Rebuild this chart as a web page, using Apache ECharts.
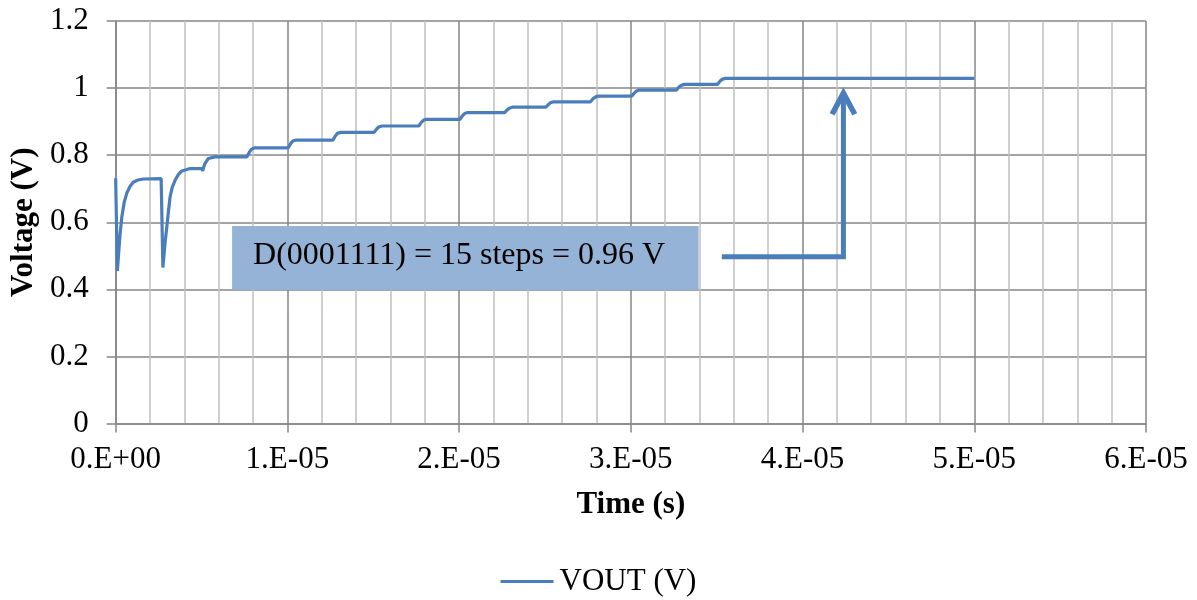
<!DOCTYPE html>
<html>
<head>
<meta charset="utf-8">
<script src="https://cdn.jsdelivr.net/npm/echarts@6/dist/echarts.min.js"></script>
<style>
  html, body { margin: 0; padding: 0; background: #ffffff; }
  #chart { width: 1197px; height: 600px; }
</style>
</head>
<body>
<div id="chart"></div>
<script>
// VOUT transient of the charge-sharing DAC: time in microseconds, voltage in volts
const timeUs = [
  0, 0.1, 0.25, 0.36, 0.5, 0.65, 0.85, 1.04, 1.3, 1.62, 2.65,
  2.75, 2.88, 2.98, 3.08, 3.17, 3.3, 3.46, 3.65, 3.85, 4.34, 5.02,
  5.07, 5.14, 5.21, 5.40, 5.79,
  7.65, 7.68, 7.8, 7.92, 8.1,
  10.05, 10.08, 10.2, 10.32, 10.5,
  12.65, 12.68, 12.8, 12.92, 13.1,
  15.05, 15.08, 15.2, 15.32, 15.5,
  17.65, 17.68, 17.8, 17.92, 18.1,
  20.05, 20.08, 20.2, 20.32, 20.5,
  22.65, 22.68, 22.8, 22.92, 23.1,
  25.05, 25.08, 25.2, 25.32, 25.5,
  27.65, 27.68, 27.8, 27.92, 28.1,
  30.05, 30.08, 30.2, 30.32, 30.5,
  32.65, 32.68, 32.8, 32.92, 33.1,
  35.05, 35.08, 35.2, 35.32, 35.5,
  50
];
const vout = [
  0.731, 0.455, 0.560, 0.616, 0.660, 0.687, 0.708, 0.720, 0.726, 0.729, 0.730,
  0.465, 0.540, 0.586, 0.635, 0.676, 0.705, 0.725, 0.742, 0.753, 0.760, 0.760,
  0.753, 0.766, 0.776, 0.790, 0.795,
  0.795, 0.791, 0.810, 0.818, 0.822,
  0.822, 0.818, 0.835, 0.842, 0.845,
  0.845, 0.841, 0.858, 0.865, 0.868,
  0.868, 0.864, 0.878, 0.884, 0.887,
  0.887, 0.883, 0.898, 0.904, 0.907,
  0.907, 0.903, 0.918, 0.924, 0.927,
  0.927, 0.923, 0.935, 0.940, 0.943,
  0.943, 0.939, 0.951, 0.956, 0.959,
  0.959, 0.955, 0.968, 0.973, 0.976,
  0.976, 0.972, 0.985, 0.991, 0.994,
  0.994, 0.990, 1.003, 1.008, 1.011,
  1.011, 1.007, 1.021, 1.026, 1.029,
  1.029
];

// x tick labels (axis runs 0..60 us, one label per 10 us)
const xTickLabels = ['0.E+00', '1.E-05', '2.E-05', '3.E-05', '4.E-05', '5.E-05', '6.E-05'];

// callout text and its placement in data units (us, V)
const calloutText = 'D(0001111) = 15 steps = 0.96 V';
const calloutBox = { t0: 6.78, t1: 33.95, v0: 0.398, v1: 0.589 };
const calloutTextAt = { t: 20.0, v: 0.502 };
const arrowPath = [[35.3, 0.497], [42.38, 0.497], [42.38, 0.980]];
const arrowHead = [[41.72, 0.922], [42.38, 0.985], [43.04, 0.922]];

const FONT = 'Liberation Serif';
const BLUE = '#4A7EBB';

const seriesData = timeUs.map((t, i) => [t, vout[i]]);

const chart = echarts.init(document.getElementById('chart'), null, { renderer: 'canvas' });

chart.setOption({
  animation: false,
  backgroundColor: '#ffffff',
  grid: { left: 115.5, right: 51, top: 21, bottom: 176.5, containLabel: false },
  legend: {
    bottom: -2,
    left: 'center',
    icon: 'rect',
    itemWidth: 53,
    itemHeight: 3,
    itemGap: 10,
    textStyle: { fontFamily: FONT, fontSize: 31, color: '#000', padding: [0, 0, 0, 1] },
    data: ['VOUT (V)']
  },
  xAxis: {
    type: 'value',
    min: 0,
    max: 60,
    interval: 10,
    name: 'Time (s)',
    nameLocation: 'middle',
    nameGap: 66,
    nameTextStyle: { fontFamily: FONT, fontSize: 31, fontWeight: 'bold', color: '#000' },
    axisLine: { show: true, lineStyle: { color: '#868686', width: 1.5 } },
    axisTick: { show: true, inside: false, length: 9, lineStyle: { color: '#868686', width: 1.5 } },
    minorTick: { show: false, splitNumber: 5 },
    axisLabel: {
      margin: 21,
      fontFamily: FONT,
      fontSize: 31,
      color: '#000',
      formatter: v => xTickLabels[Math.round(v / 10)]
    },
    splitLine: { show: true, lineStyle: { color: '#868686', width: 1.5 } },
    minorSplitLine: { show: true, lineStyle: { color: '#C0C0C0', width: 1.5 } }
  },
  yAxis: {
    type: 'value',
    min: 0,
    max: 1.2,
    interval: 0.2,
    name: 'Voltage (V)',
    nameLocation: 'middle',
    nameGap: 70,
    nameTextStyle: { fontFamily: FONT, fontSize: 31, fontWeight: 'bold', color: '#000' },
    axisLine: { show: true, lineStyle: { color: '#868686', width: 1.5 } },
    axisTick: { show: true, inside: false, length: 9, lineStyle: { color: '#868686', width: 1.5 } },
    axisLabel: {
      margin: 27,
      fontFamily: FONT,
      fontSize: 31,
      color: '#000'
    },
    splitLine: { show: true, lineStyle: { color: '#868686', width: 1.5 } }
  },
  series: [{
    name: 'VOUT (V)',
    type: 'line',
    data: seriesData,
    showSymbol: false,
    symbol: 'none',
    lineStyle: { color: BLUE, width: 3.2 },
    itemStyle: { color: BLUE },
    z: 3
  }]
});

// callout box and arrow, positioned from data coordinates
function px(t, v) {
  return chart.convertToPixel({ gridIndex: 0 }, [t, v]);
}
const b0 = px(calloutBox.t0, calloutBox.v1);
const b1 = px(calloutBox.t1, calloutBox.v0);
const tp = px(calloutTextAt.t, calloutTextAt.v);

chart.setOption({
  graphic: [
    {
      type: 'rect',
      shape: { x: b0[0], y: b0[1], width: b1[0] - b0[0], height: b1[1] - b0[1] },
      style: { fill: '#95B3D7' },
      z: 10
    },
    {
      type: 'text',
      x: tp[0],
      y: tp[1],
      style: {
        text: calloutText,
        fontFamily: FONT,
        fontSize: 32,
        fill: '#000',
        align: 'center',
        verticalAlign: 'middle'
      },
      z: 11
    },
    {
      type: 'polyline',
      shape: { points: arrowPath.map(p => px(p[0], p[1])) },
      style: { stroke: BLUE, lineWidth: 5, fill: null, lineJoin: 'miter' },
      z: 10
    },
    {
      type: 'polyline',
      shape: { points: arrowHead.map(p => px(p[0], p[1])) },
      style: { stroke: BLUE, lineWidth: 5.5, fill: null, lineJoin: 'miter' },
      z: 10
    }
  ]
});
</script>
</body>
</html>
